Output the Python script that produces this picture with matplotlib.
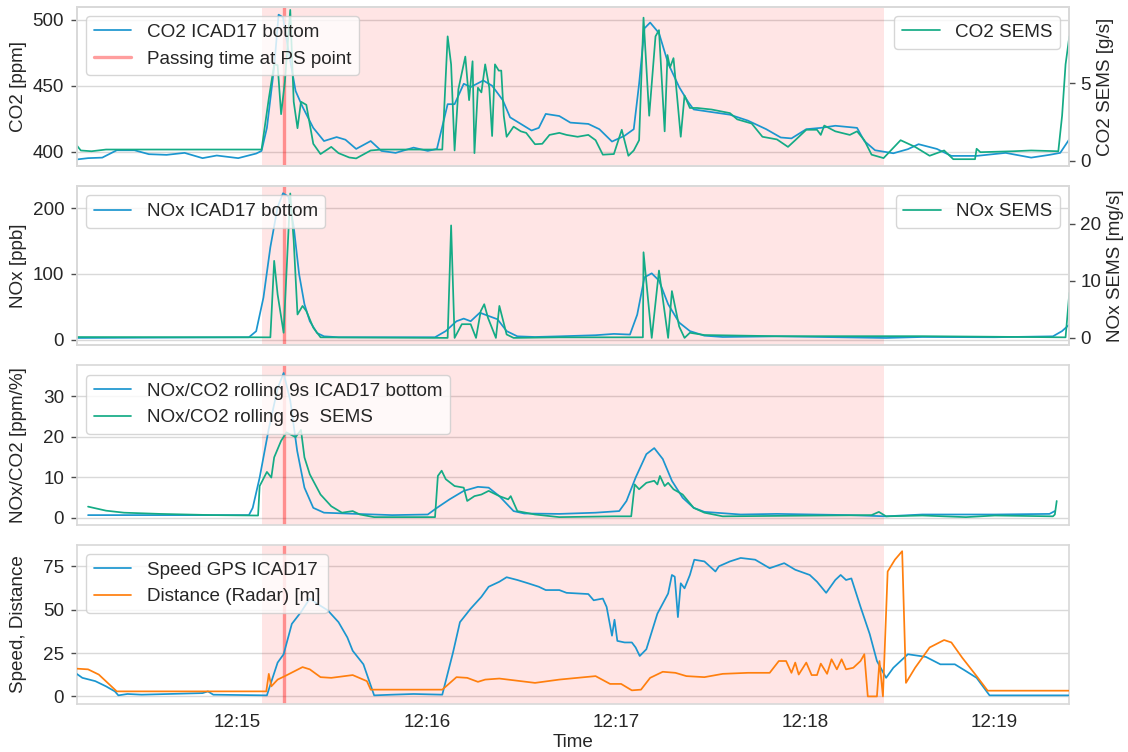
import numpy as np
import matplotlib
matplotlib.use("Agg")
import matplotlib.pyplot as plt
import matplotlib.dates as mdates
import seaborn as sns

# ---------------- data (time = seconds after 12:14:00) ----------------
CO2_T = [9, 12.6, 17.1, 21.7, 27.3, 31.9, 37.5, 43.2, 48.9, 53.4,
         60.2, 65.9, 67.6, 69.3, 71.6, 73, 74.4, 76.1, 78.4, 80.6,
         84, 87.4, 91.4, 94.2, 97.6, 102.2, 105.6, 110.1, 115.8, 120.3,
         123.2, 126.6, 128.8, 131.7, 133.9, 137.9, 140.7, 144.1, 146.4, 149.8,
         153.2, 155.5, 157.7, 162, 165.5, 171.2, 174.7, 178.7, 182.7, 185.6,
         187.3, 189, 190.8, 193.6, 196.5, 200, 202.9, 204.6, 210.3, 216.1,
         221.8, 227.6, 232.2, 235.6, 240.3, 244.9, 249.5, 256.4, 258.7, 262.1,
         267.9, 272.5, 275.9, 281.7, 286.3, 294.3, 303.5, 311.6, 317.4, 320.8,
         323.7]
CO2_ICAD = [394, 395, 395.4, 401, 401, 398, 397.5, 399, 395, 397,
            395, 398.5, 400.5, 418, 464, 504, 502, 477, 446, 434,
            418, 408, 411, 409, 402, 408, 400.5, 399, 403, 400.5,
            402, 436, 436, 451.5, 449, 454, 450, 439, 426, 421,
            416, 418, 428.6, 427, 422, 421, 417, 407.6, 412, 417,
            451.5, 493.6, 498, 490, 467, 449, 437.5, 432, 430, 428,
            423.5, 417, 410.7, 410, 417, 418, 419.6, 418, 408, 401,
            398.7, 401.8, 405.6, 402, 396.7, 396.7, 399, 395.4, 397.5, 399,
            409.4]

CO2S_T = [9, 10.3, 13.7, 18.3, 67.6, 69.9, 71.6, 72.7, 73.8, 75.0,
          76.7, 77.8, 79.0, 80.1, 81.8, 84.0, 86.3, 89.7, 92.0, 95.4,
          97.6, 102.2, 105.6, 124.9, 126.6, 127.7, 128.8, 130.0, 132.2, 133.4,
          134.5, 135.1, 136.2, 137.3, 138.5, 139.8, 140.7, 141.6, 142.8, 143.6,
          144.4, 145.3, 147.5, 149.8, 151.5, 154.3, 156.6, 158.9, 162, 164.3,
          167.8, 171.2, 173.5, 175.8, 179.3, 181.8, 183.9, 185.6, 187.3, 188.7,
          190.5, 192.5, 193.6, 195.4, 196.3, 197.1, 198.2, 199.4, 200.5, 201.7,
          203.4, 205.7, 210.3, 216.1, 218.4, 223.0, 226.4, 231.0, 234.5, 236.8,
          240.3, 243.7, 244.9, 246.0, 249.5, 254.1, 256.4, 258.7, 261.0, 264.8,
          270.2, 274.8, 279.4, 284.0, 286.9, 293.8, 294.3, 295.5, 305.8, 311.6,
          320.2, 321.4, 322.5, 323.7]
CO2_SEMS = [1.0, 0.67, 0.62, 0.73, 0.73, 4.0, 6.2, 6.15, 3.0, 5.1,
            9.7, 3.8, 2.1, 3.8, 3.6, 1.1, 0.44, 0.9, 0.5, 0.22,
            0.16, 0.67, 0.73, 0.73, 8.0, 6.2, 0.67, 4.6, 6.7, 3.9,
            6.4, 0.5, 4.7, 4.4, 6.2, 4.7, 1.6, 6.2, 5.8, 5.8,
            2.9, 1.55, 2.2, 1.9, 1.8, 1.07, 1.1, 1.67, 1.8, 1.67,
            1.55, 1.67, 1.33, 0.4, 0.44, 2.0, 0.33, 0.67, 1.33, 9.2,
            2.9, 8.0, 8.4, 1.9, 6.8, 6.0, 6.6, 4.0, 1.55, 4.2,
            3.4, 3.4, 3.3, 3.07, 2.67, 2.4, 1.55, 1.38, 0.9, 1.33,
            2.0, 2.0, 1.67, 2.27, 1.9, 1.67, 1.9, 1.33, 0.4, 0.18,
            1.33, 0.9, 0.33, 0.67, 0.11, 0.11, 0.78, 0.56, 0.62, 0.67,
            0.62, 2.9, 6.2, 8.0]

NOX_T = [9, 63.6, 65.9, 68.2, 70.4, 72.7, 74.4, 76.1, 77.8, 79.5,
         81.2, 82.9, 85.2, 87.4, 92.0, 122.6, 126.0, 129.4, 131.7, 133.9,
         136.8, 139.6, 142.4, 145.3, 148.7, 154.3, 162, 173.5, 179.3, 184.4,
         186.7, 189.0, 191.3, 193.6, 196.5, 200.0, 203.4, 208.0, 213.8, 231.0,
         265.6, 277.1, 300.1, 318.5, 321.4, 323.7]
NOX_ICAD = [2.5, 3.6, 12.8, 64, 141, 202, 223, 218, 172, 100,
            54, 28, 10, 5, 3.6, 3.6, 13, 28, 32, 28,
            41, 36, 31, 13, 5, 4, 5, 6.7, 8.7, 7.7,
            38, 95, 101, 90, 54, 26, 13, 6, 4, 5,
            2.5, 4, 3.6, 5, 13, 23]

NOXS_T = [9, 70.4, 71.6, 72.7, 74.6, 76.7, 77.8, 79.0, 80.6, 81.8,
          84.0, 86.3, 126.6, 127.7, 128.8, 131.1, 133.9, 135.6, 137.1, 138.2,
          139.4, 141.9, 143.0, 145.3, 147.5, 162, 188.5, 188.7, 191.3, 193.6,
          196.5, 197.7, 200.0, 201.7, 203.4, 208.0, 231.0, 277.1, 322.5, 323.7]
NOX_SEMS = [0.15, 0.1, 13.5, 7.6, 0.9, 25.3, 17, 4.1, 5.6, 4.7,
            1.8, 0.1, 0.0, 19.7, 0.0, 2.4, 2.4, 0.0, 4.7, 5.9,
            3.5, 0.0, 5.6, 0.6, 0.0, 0.1, 0.1, 15, 0.0, 11.8,
            0.0, 8.2, 2.0, 0.0, 0.9, 0.5, 0.3, 0.3, 0.1, 7.9]

RAT_T = [12.6, 63.6, 64.8, 67.0, 69.9, 72.7, 74.6, 76.7, 78.9, 81.2,
         84.0, 87.4, 97.6, 109.0, 120.3, 123.2, 127.2, 131.7, 136.2, 139.6,
         143.0, 147.5, 150.9, 162, 173.5, 181.0, 183.3, 186.2, 189.6, 192.1,
         194.8, 197.7, 201.1, 204.6, 208.0, 219.5, 231.0, 254.1, 265.6, 277.1,
         300.1, 317.4, 319.1]
RATIO_ICAD = [0.6, 0.6, 2.4, 9.9, 22, 32, 35.8, 29, 16.5, 7.4,
              2.4, 1.2, 0.9, 0.6, 0.75, 2.4, 4.5, 6.6, 7.6, 7.4,
              5.3, 1.6, 1.0, 0.9, 1.2, 1.6, 4.1, 9.9, 15.7, 17.2,
              14.5, 9.1, 4.9, 2.4, 1.4, 0.75, 0.9, 0.6, 0.3, 0.75,
              0.75, 0.9, 1.6]

RATS_T = [12.6, 18.3, 24.0, 35.3, 52.3, 66.5, 67.0, 69.3, 70.7, 71.6,
          73.8, 75.5, 78.4, 80.1, 81.2, 82.9, 84.6, 86.3, 89.7, 93.1,
          96.5, 98.8, 103.3, 122.6, 123.5, 124.7, 126.0, 128.8, 131.7, 132.8,
          135.1, 137.3, 139.6, 143.0, 145.8, 146.6, 148.7, 154.3, 162, 179.3,
          184.8, 185.9, 187.3, 189.6, 192.1, 193.1, 193.9, 195.4, 196.5, 198.2,
          201.1, 204.6, 208.0, 213.8, 261.0, 263.3, 265.6, 277.1, 290.9, 300.1,
          318.5, 319.1, 319.7]
RATIO_SEMS = [2.7, 1.7, 1.2, 0.9, 0.6, 0.5, 7.8, 11.3, 9.9, 14.9,
              19, 21.1, 19.9, 21.7, 14.9, 10.7, 8.2, 5.7, 2.8, 1.2,
              1.6, 0.75, 0.1, 0.1, 10.3, 11.6, 9.5, 7.8, 7.4, 4.1,
              5.3, 5.7, 6.6, 5.3, 4.5, 5.3, 1.6, 0.75, 0.1, 0.3,
              0.3, 8.2, 7.0, 8.6, 9.1, 8.2, 10.3, 7.8, 8.6, 7.0,
              5.7, 2.4, 1.2, 0.3, 0.6, 1.4, 0.3, 0.5, 0.1, 0.5,
              0.3, 0.75, 4.1]

SPD_T = [9, 10.8, 14.9, 18.3, 21.1, 22.2, 25.1, 29.6, 48.9, 50.6,
         52.3, 69.3, 70.4, 72.7, 74.6, 77.2, 80.1, 82.9, 85.2, 88.6,
         92.0, 94.8, 96.5, 99.9, 103.3, 109.0, 115.8, 124.9, 128.3, 130.5,
         133.9, 137.3, 139.6, 143.0, 145.3, 148.7, 152.1, 155.5, 157.7, 162,
         164.3, 171.2, 172.9, 175.8, 177.0, 178.7, 179.5, 180.4, 182.7, 185.0,
         186.2, 187.5, 189.6, 193.1, 196.5, 197.7, 198.6, 199.6, 200.5, 201.7,
         203.4, 204.8, 208.0, 211.5, 212.6, 216.1, 219.5, 224.1, 228.7, 233.3,
         236.8, 241.4, 243.7, 246.6, 249.5, 251.2, 252.9, 254.6, 257.5, 260.4,
         262.7, 265.6, 267.9, 272.5, 278.2, 282.8, 287.4, 290.9, 294.3, 298.4,
         323.7]
SPEED = [13, 10.7, 8.8, 5.8, 2.9, 0.6, 1.4, 1, 1.9, 2.9,
         1, 0.6, 6.8, 19.5, 24.3, 41.8, 48.6, 56.4, 53.5, 49.6,
         42.8, 34, 26.3, 18.5, 0.6, 1, 1.4, 1, 25.3, 42.8,
         50.6, 57.4, 63.2, 66.1, 68.7, 67.1, 65.2, 63.2, 61.3, 61.3,
         59.7, 59, 55.4, 56.4, 51.6, 35, 44.2, 32, 31.1, 31.1,
         28.2, 23.3, 27.2, 47.7, 59.3, 70, 69, 45.7, 65.2, 62.3,
         70, 78.8, 77.8, 72, 75, 77.8, 79.8, 78.8, 73.9, 76.8,
         73, 70, 66.1, 59.7, 67.1, 70, 67.1, 68, 51.6, 36,
         20.4, 10.7, 16.5, 24.3, 22.8, 18.5, 18.5, 14.6, 10.7, 0.6,
         0.6]

DST_T = [9, 12.6, 16.0, 21.7, 69.1, 69.9, 70.7, 72.7, 75.0, 80.6,
         82.9, 86.3, 89.7, 96.5, 101.0, 102.2, 124.9, 129.4, 132.8, 136.2,
         138.5, 143.0, 154.3, 162, 173.5, 178.1, 181.6, 185.0, 187.9, 190.8,
         194.8, 198.8, 202.3, 208.0, 213.8, 221.8, 228.7, 231.6, 233.9, 235.6,
         236.8, 237.9, 240.3, 242.0, 243.7, 244.9, 246.9, 248.3, 250.0, 251.5,
         252.9, 255.2, 257.5, 258.7, 259.8, 262.7, 263.5, 264.6, 266.1, 268.4,
         270.7, 271.9, 274.8, 279.4, 284.0, 286.3, 289.7, 294.3, 297.8, 323.7]
DISTANCE = [16, 15.6, 12.6, 2.9, 2.9, 13, 5.8, 9.7, 11.7, 16.9,
            15.6, 11.1, 10.7, 12.3, 8.8, 3.9, 3.9, 11.1, 10.7, 8.4,
            9.7, 10.3, 7.8, 9.7, 11.7, 7.2, 7.2, 3.5, 3.9, 10.7,
            14.2, 13.6, 11.7, 11.1, 13, 13.6, 13.6, 20.4, 20.4, 13.6,
            19.5, 12.6, 19.5, 12.3, 12.3, 18.9, 13, 21.4, 15.6, 21.4,
            15.6, 16.5, 20.4, 24.3, 0, 0, 20.4, 0, 72, 78.8,
            83.7, 7.8, 16.5, 28.2, 32.5, 31.1, 22.4, 11.7, 3.3, 3.3]

X_RANGE = [9, 323.7]
SPAN = [67.6, 264.8]
PASS_T = 74.6

# ---------------- style ----------------
sns.set_theme(style="whitegrid")
plt.rcParams['font.family'] = ['Liberation Sans', 'DejaVu Sans']
FS = 13.6
plt.rcParams.update({
    'font.size': FS, 'axes.labelsize': FS, 'xtick.labelsize': FS,
    'ytick.labelsize': FS, 'legend.fontsize': FS,
    'axes.edgecolor': '.85', 'grid.color': '.85',
})

BLUE = '#1b96cf'
GREEN = '#14ab85'
ORANGE = '#ff7f0e'

BASE = np.datetime64('2021-06-01T12:14:00')


def ts(sec):
    ms = np.round(np.asarray(sec, dtype=float) * 1000).astype('int64')
    return BASE + ms.astype('timedelta64[ms]')


fig = plt.figure(figsize=(11.28, 7.52), dpi=100)
axes = fig.subplots(4, 1, sharex=True)
fig.subplots_adjust(left=0.068, right=0.948, top=0.991, bottom=0.064, hspace=0.1256)

LW = 1.25


def decorate(ax, label='_nolegend_'):
    ax.axvspan(ts(SPAN[0]), ts(SPAN[1]), color='red', alpha=0.1, lw=0, zorder=1)
    h = ax.axvline(ts(PASS_T), color='red', alpha=0.38, lw=2.4, zorder=2, label=label)
    ax.grid(axis='x', visible=False)
    ax.tick_params(axis='y', left=True, length=4, width=1, color='.3', pad=5)
    ax.tick_params(axis='x', bottom=False, pad=1.5)
    return h


def twin(ax, ylim, ticks, label):
    a2 = ax.twinx()
    a2.grid(False)
    a2.set_ylim(*ylim)
    a2.set_yticks(ticks)
    a2.set_ylabel(label)
    a2.tick_params(axis='y', right=True, length=4, width=1, color='.3', pad=4)
    for s in a2.spines.values():
        s.set_color('.85')
    return a2


# Panel 1
ax = axes[0]
hred = decorate(ax, 'Passing time at PS point')
l1, = ax.plot(ts(CO2_T), CO2_ICAD, color=BLUE, lw=LW, label='CO2 ICAD17 bottom', zorder=3)
ax.set_ylim(389, 510)
ax.set_yticks([400, 450, 500])
ax.set_ylabel('CO2 [ppm]')
ax2 = twin(ax, (-0.33, 9.9), [0, 5], 'CO2 SEMS [g/s]')
g1, = ax2.plot(ts(CO2S_T), CO2_SEMS, color=GREEN, lw=LW, label='CO2 SEMS')
leg = ax2.legend(handles=[l1, hred], loc='upper left', framealpha=0.8)
ax2.add_artist(leg)
ax2.legend(handles=[g1], loc='upper right', framealpha=0.8)

# Panel 2
ax = axes[1]
decorate(ax)
l2, = ax.plot(ts(NOX_T), NOX_ICAD, color=BLUE, lw=LW, label='NOx ICAD17 bottom', zorder=3)
ax.set_ylim(-8.7, 234)
ax.set_yticks([0, 100, 200])
ax.set_ylabel('NOx [ppb]')
ax2 = twin(ax, (-1.3, 26.6), [0, 10, 20], 'NOx SEMS [mg/s]')
g2, = ax2.plot(ts(NOXS_T), NOX_SEMS, color=GREEN, lw=LW, label='NOx SEMS')
leg = ax2.legend(handles=[l2], loc='upper left', framealpha=0.8)
ax2.add_artist(leg)
ax2.legend(handles=[g2], loc='upper right', framealpha=0.8)

# Panel 3
ax = axes[2]
decorate(ax)
ax.plot(ts(RAT_T), RATIO_ICAD, color=BLUE, lw=LW, label='NOx/CO2 rolling 9s ICAD17 bottom', zorder=3)
ax.plot(ts(RATS_T), RATIO_SEMS, color=GREEN, lw=LW, label='NOx/CO2 rolling 9s  SEMS', zorder=3)
ax.set_ylim(-1.75, 37.7)
ax.set_yticks([0, 10, 20, 30])
ax.set_ylabel('NOx/CO2 [ppm/%]')
ax.legend(loc='upper left', framealpha=0.8).set_zorder(10)

# Panel 4
ax = axes[3]
decorate(ax)
ax.plot(ts(SPD_T), SPEED, color=BLUE, lw=LW, label='Speed GPS ICAD17', zorder=3)
ax.plot(ts(DST_T), DISTANCE, color=ORANGE, lw=LW, label='Distance (Radar) [m]', zorder=3)
ax.set_ylim(-4.3, 87.5)
ax.set_yticks([0, 25, 50, 75])
ax.set_ylabel('Speed, Distance')
ax.legend(loc='upper left', framealpha=0.8).set_zorder(10)
ax.set_xlabel('Time', labelpad=2)

ax.set_xlim(ts(X_RANGE[0]), ts(X_RANGE[1]))
ax.xaxis.set_major_locator(mdates.MinuteLocator())
ax.xaxis.set_major_formatter(mdates.DateFormatter('%H:%M'))

fig.align_ylabels(list(axes))
fig.savefig('out.png', dpi=100)
